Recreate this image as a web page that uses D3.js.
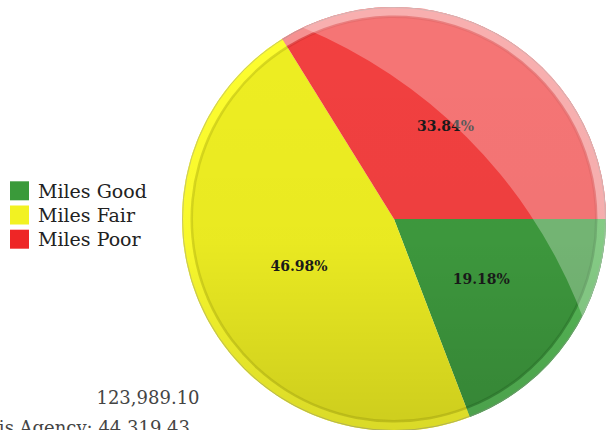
<!DOCTYPE html>
<html><head><meta charset="utf-8">
<script src="https://cdn.jsdelivr.net/npm/d3@7"></script>
<style>body{margin:0;background:#fff;overflow:hidden}</style>
</head><body>
<svg id="c" width="611" height="430"></svg>
<script>
const categories = ["Miles Good", "Miles Fair", "Miles Poor"];
const values = [19.18, 46.98, 33.84];
const labels = ["19.18%", "46.98%", "33.84%"];
const footerTotal = "123,989.10";
const footerAgency = "Lane Miles Maintained by this Agency: 44,319.43";

const baseColors = ["#3e9a3e", "#eeee22", "#f24040"];
const rimColors = ["#5cc05c", "#ffff30", "#f7a0a0"];
const lineColors = ["#2f7f2f", "#c9c918", "#d83030"];
const swatchColors = ["#3a9a3a", "#f2f222", "#ee2626"];

const svg = d3.select("#c");
const W = 611, H = 430;
const cx = 394, cy = 219, R = 212;

const defs = svg.append("defs");
defs.append("clipPath").attr("id", "pieClip")
  .append("circle").attr("cx", cx).attr("cy", cy).attr("r", R);
const vg = defs.append("linearGradient").attr("id", "shade")
  .attr("x1", 0).attr("y1", 0).attr("x2", 0).attr("y2", 1);
vg.append("stop").attr("offset", "0%").attr("stop-color", "#000").attr("stop-opacity", 0);
vg.append("stop").attr("offset", "55%").attr("stop-color", "#000").attr("stop-opacity", 0.02);
vg.append("stop").attr("offset", "100%").attr("stop-color", "#000").attr("stop-opacity", 0.14);

const pie = d3.pie().sort(null).value(d => d)
  .startAngle(Math.PI / 2).endAngle(Math.PI / 2 + 2 * Math.PI);
const arcs = pie(values);

const g = svg.append("g").attr("transform", `translate(${cx},${cy})`);
const arcMain = d3.arc().innerRadius(0).outerRadius(R);
const arcRim = d3.arc().innerRadius(R - 10).outerRadius(R);
const arcLine = d3.arc().innerRadius(R - 11).outerRadius(R - 8.5);
const arcLabel = d3.arc().innerRadius(R * 0.5).outerRadius(R * 0.5);

g.selectAll("path.slice").data(arcs).join("path").attr("class", "slice")
  .attr("d", arcMain).attr("fill", (d, i) => baseColors[i]);

// vertical shading
svg.append("rect").attr("x", cx - R).attr("y", cy - R).attr("width", 2 * R).attr("height", 2 * R)
  .attr("fill", "url(#shade)").attr("clip-path", "url(#pieClip)");

// glossy highlight on the right side
const hl = svg.append("g").attr("clip-path", "url(#pieClip)");
hl.append("path")
  .attr("d", `M0,0H${W}V${H}H0Z M${109 - 506},495 a506,506 0 1,0 1012,0 a506,506 0 1,0 -1012,0Z`)
  .attr("fill-rule", "evenodd").attr("fill", "#fff").attr("opacity", 0.28);

// rim
g.selectAll("path.rim").data(arcs).join("path").attr("class", "rim")
  .attr("d", arcRim).attr("fill", (d, i) => rimColors[i]).attr("opacity", 0.85);
g.selectAll("path.rline").data(arcs).join("path").attr("class", "rline")
  .attr("d", arcLine).attr("fill", (d, i) => lineColors[i]).attr("opacity", 0.7);
g.append("circle").attr("r", R - 0.5).attr("fill", "none").attr("stroke", "#999").attr("stroke-opacity", 0.5);

// slice labels
g.selectAll("text.lab").data(arcs).join("text").attr("class", "lab")
  .attr("transform", d => { const c = arcLabel.centroid(d); return `translate(${c[0]},${c[1]})`; })
  .attr("text-anchor", "middle").attr("dy", "0.35em")
  .attr("font-family", "DejaVu Serif").attr("font-weight", "bold").attr("font-size", 14)
  .attr("fill", "#1a1a1a").text((d, i) => labels[i]);

// legend
const ly = d3.scaleBand().domain(categories).range([177, 252]).padding(0.1);
const leg = svg.append("g");
categories.forEach((c, i) => {
  leg.append("rect").attr("x", 10).attr("y", ly(c) + ly.bandwidth() / 2 - 9)
    .attr("width", 19).attr("height", 19).attr("fill", swatchColors[i]);
  leg.append("text").attr("x", 38).attr("y", ly(c) + ly.bandwidth() / 2 + 1)
    .attr("dy", "0.35em").attr("font-family", "DejaVu Serif").attr("font-size", 19)
    .attr("fill", "#222").text(c);
});

// footer
svg.append("text").attr("x", 148).attr("y", 404).attr("text-anchor", "middle")
  .attr("font-family", "DejaVu Serif").attr("font-size", 18).attr("fill", "#444").text(footerTotal);
svg.append("text").attr("x", 190).attr("y", 434).attr("text-anchor", "end")
  .attr("font-family", "DejaVu Serif").attr("font-size", 18).attr("fill", "#444").text(footerAgency);
</script>
</body></html>
